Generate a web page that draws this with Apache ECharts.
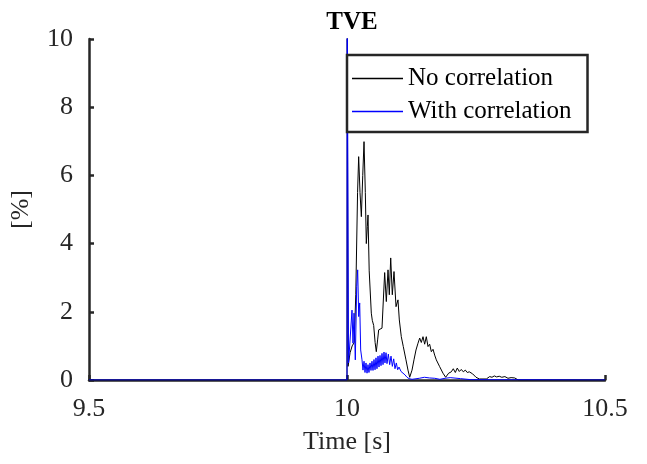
<!DOCTYPE html>
<html>
<head>
<meta charset="utf-8">
<script src="https://cdn.jsdelivr.net/npm/echarts@6/dist/echarts.min.js"></script>
<style>
  html, body { margin: 0; padding: 0; background: #fff; }
  #chart { width: 647px; height: 464px; }
</style>
</head>
<body>
<div id="chart"></div>
<script>
// time [s] and TVE [%]
const noCorrT = [9.5, 10.0, 10.0004, 10.002, 10.006, 10.010, 10.014, 10.017, 10.0205, 10.0226, 10.0252, 10.0278, 10.0305, 10.033, 10.0355, 10.0374, 10.0394, 10.0407, 10.043, 10.0471, 10.049, 10.0517, 10.0545, 10.0568, 10.0595, 10.0614, 10.064, 10.0678, 10.073, 10.0762, 10.0795, 10.082, 10.0847, 10.0878, 10.0911, 10.095, 10.0988, 10.1014, 10.1052, 10.1091, 10.1124, 10.1143, 10.1182, 10.1215, 10.126, 10.1298, 10.1337, 10.1376, 10.1409, 10.144, 10.1473, 10.1505, 10.1537, 10.157, 10.1602, 10.1634, 10.1667, 10.1699, 10.1731, 10.1764, 10.1796, 10.186, 10.1912, 10.197, 10.2021, 10.206, 10.2099, 10.2137, 10.2176, 10.2215, 10.2254, 10.2293, 10.2331, 10.237, 10.2435, 10.25, 10.2565, 10.27, 10.2765, 10.281, 10.2855, 10.29, 10.295, 10.3, 10.306, 10.312, 10.318, 10.325, 10.332, 10.5];
const noCorrV = [0, 0, 11, 0.4, 0.8, 1.0, 1.1, 2.5, 5.5, 6.55, 5.5, 4.79, 6.0, 6.99, 5.5, 4.0, 4.5, 4.84, 3.2, 1.96, 1.75, 1.6, 1.1, 0.83, 1.2, 1.47, 1.5, 1.52, 3.15, 2.3, 3.23, 2.5, 3.58, 2.5, 3.18, 2.15, 2.35, 1.76, 1.27, 0.98, 0.98, 0.59, 0.29, 0.08, 0.29, 0.59, 0.88, 1.08, 1.23, 1.1, 1.27, 1.05, 1.27, 0.98, 1.05, 0.83, 0.9, 0.73, 0.59, 0.55, 0.39, 0.2, 0.08, 0.2, 0.24, 0.33, 0.22, 0.35, 0.25, 0.31, 0.24, 0.29, 0.22, 0.24, 0.18, 0.08, 0.03, 0.03, 0.1, 0.08, 0.12, 0.09, 0.11, 0.08, 0.1, 0.05, 0.07, 0.06, 0, 0];

const withCorrT = [9.5, 10.0, 10.0003, 10.003, 10.0097, 10.0116, 10.0136, 10.0161, 10.0188, 10.0207, 10.0227, 10.0246, 10.0265, 10.0291, 10.031, 10.033, 10.0349, 10.0368, 10.0388, 10.0407, 10.0426, 10.0446, 10.0465, 10.0484, 10.0504, 10.0523, 10.0543, 10.0562, 10.0581, 10.0601, 10.062, 10.064, 10.0659, 10.0678, 10.0698, 10.0717, 10.0736, 10.0756, 10.0775, 10.0801, 10.0827, 10.0853, 10.0879, 10.0905, 10.093, 10.0956, 10.0982, 10.1008, 10.1047, 10.1085, 10.1124, 10.1163, 10.1202, 10.126, 10.14, 10.15, 10.16, 10.17, 10.18, 10.19, 10.2, 10.22, 10.24, 10.5];
const withCorrV = [0, 0, 12, 0.5, 2.05, 1.08, 1.96, 0.59, 2.74, 3.23, 1.86, 2.26, 0.88, 0.59, 0.29, 0.55, 0.22, 0.5, 0.2, 0.45, 0.22, 0.5, 0.28, 0.55, 0.28, 0.6, 0.3, 0.65, 0.33, 0.7, 0.38, 0.72, 0.42, 0.78, 0.45, 0.82, 0.5, 0.8, 0.48, 0.76, 0.45, 0.7, 0.4, 0.62, 0.33, 0.5, 0.3, 0.38, 0.25, 0.2, 0.15, 0.08, 0.04, 0.02, 0.05, 0.08, 0.06, 0.05, 0.02, 0.05, 0.07, 0.04, 0.01, 0];

const xTicks = [9.5, 10, 10.5];
const seriesNames = ['No correlation', 'With correlation'];
const seriesColors = ['#000000', '#0000ff'];

const zip = (a, b) => a.map((t, i) => [t, b[i]]);
const font = 'Liberation Serif, Times New Roman, serif';
const ink = '#262626';

let chart = echarts.init(document.getElementById('chart'));
chart.setOption({
  animation: false,
  title: {
    text: 'TVE',
    left: 347,
    textAlign: 'center',
    top: 5,
    textStyle: { fontFamily: font, fontSize: 25, fontWeight: 'bold', color: '#000' }
  },
  grid: { left: 89, top: 39, width: 516, height: 341 },
  legend: {
    left: 347,
    top: 55,
    orient: 'vertical',
    icon: 'rect',
    itemWidth: 51,
    itemHeight: 1.5,
    itemGap: 8,
    padding: [11, 16, 8, 5],
    borderColor: ink,
    borderWidth: 2.5,
    backgroundColor: '#fff',
    textStyle: { fontFamily: font, fontSize: 25, color: '#000' },
    data: seriesNames.map((n, i) => ({ name: n, itemStyle: { color: seriesColors[i] } }))
  },
  xAxis: {
    type: 'value',
    min: xTicks[0],
    max: xTicks[xTicks.length - 1],
    interval: 0.5,
    name: 'Time [s]',
    nameLocation: 'middle',
    nameGap: 49,
    nameTextStyle: { fontFamily: font, fontSize: 26, color: ink },
    axisLine: { lineStyle: { color: ink, width: 2.5 } },
    axisTick: { inside: true, length: 5, lineStyle: { color: ink, width: 2.5 } },
    axisLabel: { fontFamily: font, fontSize: 26, color: ink, margin: 16 },
    splitLine: { show: false }
  },
  yAxis: {
    type: 'value',
    min: 0,
    max: 10,
    interval: 2,
    name: '[%]',
    nameLocation: 'middle',
    nameGap: 55,
    nameTextStyle: { fontFamily: font, fontSize: 26, color: ink },
    axisLine: { show: true, lineStyle: { color: ink, width: 2.5 } },
    axisTick: { show: true, inside: true, length: 5, lineStyle: { color: ink, width: 2.5 } },
    axisLabel: { fontFamily: font, fontSize: 26, color: ink, margin: 16 },
    splitLine: { show: false }
  },
  series: [
    {
      name: seriesNames[0],
      type: 'line',
      data: zip(noCorrT, noCorrV),
      symbol: 'none',
      clip: true,
      itemStyle: { color: seriesColors[0] },
      lineStyle: { color: seriesColors[0], width: 1 }
    },
    {
      name: seriesNames[1],
      type: 'line',
      data: zip(withCorrT, withCorrV),
      symbol: 'none',
      clip: true,
      itemStyle: { color: seriesColors[1] },
      lineStyle: { color: seriesColors[1], width: 1 }
    }
  ]
});
</script>
</body>
</html>
